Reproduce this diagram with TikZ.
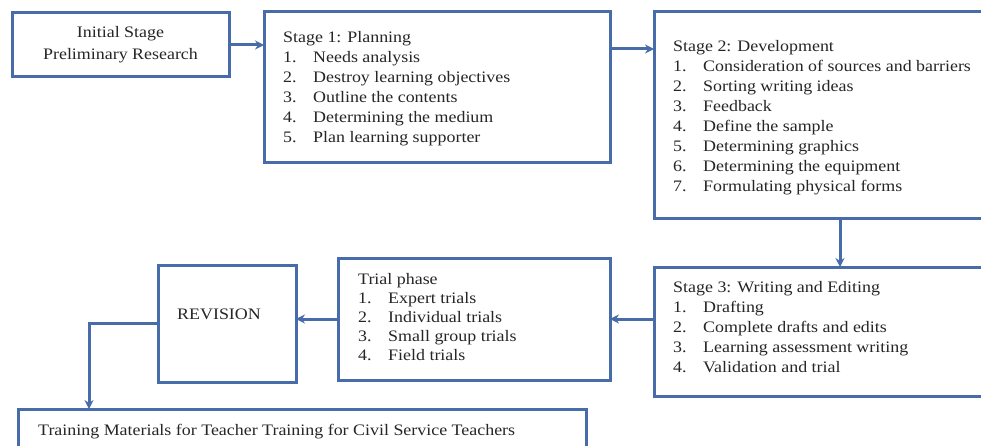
\documentclass[tikz,border=0pt]{standalone}
\usepackage{fontspec}
\setmainfont[FakeStretch=1.12]{Liberation Serif}
\usetikzlibrary{arrows.meta}
\definecolor{boxblue}{RGB}{72,108,170}
\tikzset{
  box/.style={draw=boxblue, line width=3pt, anchor=north west, inner sep=0pt, outer sep=0pt, fill=white},
  txt/.style={anchor=north west, inner sep=0pt, align=left, font=\fontsize{16}{20}\selectfont, text=black!85},
  conn/.style={draw=boxblue, line width=3pt, -{Stealth[length=9pt,width=9pt]}},
}
\newcommand{\itm}[2]{\makebox[30pt][l]{#1}#2}
\begin{document}
\begin{tikzpicture}[x=1pt,y=-1pt]
\clip (0,0) rectangle (981,446);
\fill[white] (0,0) rectangle (981,446);
% boxes
\node[box, minimum width=217pt, minimum height=64pt] (init) at (12,13) {};
\node[box, minimum width=346pt, minimum height=151pt] (s1) at (264,12) {};
\node[box, minimum width=340pt, minimum height=207pt] (s2) at (654,12) {};
\node[box, minimum width=340pt, minimum height=129pt] (s3) at (654,267) {};
\node[box, minimum width=272pt, minimum height=122pt] (tr) at (338,258) {};
\node[box, minimum width=138pt, minimum height=117pt] (rev) at (158,265) {};
\node[box, minimum width=568pt, minimum height=60pt] (bot) at (18,409) {};
% texts
\node[txt, anchor=center, align=center, font=\fontsize{16}{22}\selectfont] (tinit) at (init.center) {Initial Stage\\Preliminary Research};
\node[txt] (ts1) at (283,31) {Stage 1: Planning\\
\itm{1.}{Needs analysis}\\
\itm{2.}{Destroy learning objectives}\\
\itm{3.}{Outline the contents}\\
\itm{4.}{Determining the medium}\\
\itm{5.}{Plan learning supporter}};
\node[txt] (ts2) at (673,40) {Stage 2: Development\\
\itm{1.}{Consideration of sources and barriers}\\
\itm{2.}{Sorting writing ideas}\\
\itm{3.}{Feedback}\\
\itm{4.}{Define the sample}\\
\itm{5.}{Determining graphics}\\
\itm{6.}{Determining the equipment}\\
\itm{7.}{Formulating physical forms}};
\node[txt] (ts3) at (673,281) {Stage 3: Writing and Editing\\
\itm{1.}{Drafting}\\
\itm{2.}{Complete drafts and edits}\\
\itm{3.}{Learning assessment writing}\\
\itm{4.}{Validation and trial}};
\node[txt, font=\fontsize{16}{19}\selectfont] (ttr) at (358,273) {Trial phase\\
\itm{1.}{Expert trials}\\
\itm{2.}{Individual trials}\\
\itm{3.}{Small group trials}\\
\itm{4.}{Field trials}};
\node[txt, anchor=west] (trev) at (177,314) {REVISION};
\node[txt, anchor=west] (tbot) at (38,432) {Training Materials for Teacher Training for Civil Service Teachers};
% connectors
\draw[conn] (init.east) -- (init.east -| s1.west);
\draw[conn] ([yshift=-37pt]s1.north east) -- ([yshift=-37pt]s1.north east -| s2.west);
\draw[conn] ([xshift=186pt]s2.south west) -- ([xshift=186pt]s2.south west |- s3.north);
\draw[conn] (s3.west |- tr.east) -- (tr.east);
\draw[conn] (tr.west) -- (tr.west -| rev.east);
\draw[conn] (rev.west) -| ([xshift=71pt]bot.north west);
\end{tikzpicture}
\end{document}
